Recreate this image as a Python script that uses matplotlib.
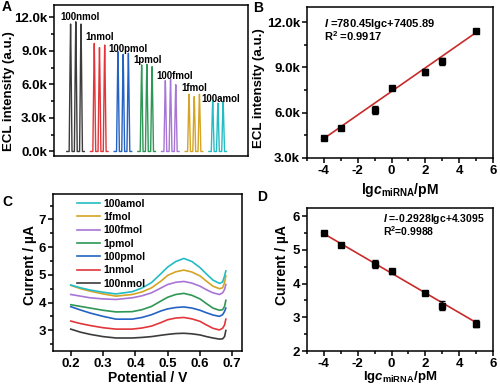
import numpy as np
import matplotlib
matplotlib.use('Agg')
import matplotlib.pyplot as plt
from matplotlib.ticker import MultipleLocator, FuncFormatter

plt.rcParams['font.family'] = ['Liberation Sans', 'DejaVu Sans']
plt.rcParams['font.weight'] = 'bold'
plt.rcParams['axes.labelweight'] = 'bold'
plt.rcParams['mathtext.fontset'] = 'custom'
plt.rcParams['mathtext.rm'] = 'Liberation Sans:bold'
plt.rcParams['mathtext.it'] = 'Liberation Sans:italic:bold'
plt.rcParams['mathtext.bf'] = 'Liberation Sans:bold'
plt.rcParams['axes.linewidth'] = 1.1
plt.rcParams['axes.unicode_minus'] = False

# ---- data ----
labels = ['100nmol', '1nmol', '100pmol', '1pmol', '100fmol', '1fmol', '100amol']
colors = ['#3c3c3c', '#e2363b', '#2462c4', '#2e9755', '#a775d6', '#d6a424', '#24bcc4']

# A: ECL peaks (three repeats per concentration)
peak_t = [-0.22, 0.0, 0.22]
peak_h = [[11400, 11600, 11400],
          [9670, 9290, 9520],
          [8930, 8690, 8780],
          [7740, 7800, 7590],
          [6340, 6460, 5980],
          [5120, 4910, 5120],
          [4550, 4320, 4460]]
lab_x = [-0.66, 0.39, 1.38, 2.43, 3.42, 4.44, 5.32]
lab_y = [12030, 10210, 9140, 8190, 6790, 5660, 4680]

# B: ECL calibration
lgc = [-4, -3, -1, 0, 2, 3, 5]
ecl = [4290, 4980, 6180, 7620, 8710, 9400, 11400]
ecl_err = [120, 60, 250, 110, 200, 250, 100]
b_slope, b_int = 780.45, 7405.89

# C: DPV curves
pot = [0.20, 0.23, 0.26, 0.30, 0.34, 0.39, 0.42, 0.45, 0.48, 0.50, 0.525, 0.55, 0.575,
       0.60, 0.62, 0.64, 0.66, 0.67, 0.676, 0.68]
dpv = {
    '100nmol': [3.04, 2.93, 2.85, 2.77, 2.72, 2.72, 2.74, 2.77, 2.82, 2.85, 2.88, 2.89, 2.87,
                2.83, 2.77, 2.72, 2.68, 2.69, 2.77, 2.99],
    '1nmol':   [3.33, 3.24, 3.17, 3.09, 3.04, 3.04, 3.08, 3.15, 3.28, 3.38, 3.44, 3.46, 3.41,
                3.32, 3.19, 3.07, 3.01, 3.07, 3.19, 3.40],
    '100pmol': [3.85, 3.73, 3.62, 3.50, 3.40, 3.40, 3.46, 3.56, 3.70, 3.77, 3.82, 3.84, 3.80,
                3.72, 3.63, 3.55, 3.50, 3.56, 3.68, 3.80],
    '1pmol':   [3.92, 3.86, 3.80, 3.72, 3.66, 3.67, 3.74, 3.86, 4.06, 4.19, 4.29, 4.33, 4.26,
                4.13, 3.96, 3.80, 3.72, 3.74, 3.86, 4.08],
    '100fmol': [4.29, 4.23, 4.17, 4.13, 4.11, 4.17, 4.24, 4.35, 4.53, 4.65, 4.73, 4.76, 4.70,
                4.59, 4.46, 4.35, 4.29, 4.35, 4.47, 4.65],
    '1fmol':   [4.62, 4.50, 4.41, 4.31, 4.23, 4.29, 4.38, 4.53, 4.78, 4.98, 5.11, 5.17, 5.10,
                4.96, 4.77, 4.59, 4.50, 4.53, 4.72, 4.96],
    '100amol': [4.63, 4.53, 4.45, 4.37, 4.31, 4.39, 4.52, 4.72, 5.05, 5.28, 5.48, 5.59, 5.48,
                5.26, 5.03, 4.81, 4.69, 4.74, 4.96, 5.14],
}

# D: DPV calibration
cur = [5.50, 5.16, 4.59, 4.37, 3.73, 3.35, 2.81]
cur_err = [0.06, 0.03, 0.12, 0.07, 0.04, 0.12, 0.10]
d_slope, d_int = -0.2928, 4.3095

fit_color = '#c92a2a'

fig = plt.figure(figsize=(5.0, 3.87), dpi=100)
axA = fig.add_axes([0.108, 0.597, 0.388, 0.390])
axB = fig.add_axes([0.614, 0.592, 0.372, 0.390])
axC = fig.add_axes([0.106, 0.093, 0.378, 0.406])
axD = fig.add_axes([0.614, 0.093, 0.372, 0.370])

kfmt = FuncFormatter(lambda v, p: f'{v/1000:.1f}k')


def style(ax):
    ax.tick_params(which='both', direction='out', top=False, right=False, labelsize=9.5, width=1.1, pad=1.5)
    ax.tick_params(which='major', length=3.5)
    ax.tick_params(which='minor', length=2)
    for t in ax.get_xticklabels() + ax.get_yticklabels():
        t.set_fontweight('bold')


# ---- A ----
for g, (hs, c) in enumerate(zip(peak_h, colors)):
    xs, ys = [g - 0.38], [0]
    for dt, h in zip(peak_t, hs):
        p = g + dt
        xs += [p - 0.06, p - 0.015, p, p + 0.015, p + 0.06]
        ys += [0, h * 0.8, h, h * 0.8, 0]
    xs.append(g + 0.36)
    ys.append(0)
    axA.plot(xs, ys, color=c, lw=1.0)
    axA.text(lab_x[g], lab_y[g], labels[g], fontsize=7, fontweight='bold', va='center', ha='left')
axA.set_xlim(-0.92, 7.27)
axA.set_ylim(-400, 13100)
axA.set_xticks([])
axA.yaxis.set_major_locator(MultipleLocator(3000))
axA.yaxis.set_minor_locator(MultipleLocator(1500))
axA.yaxis.set_major_formatter(kfmt)
axA.set_ylabel('ECL intensity (a.u.)', fontsize=9.5)
axA.yaxis.set_label_coords(-0.20, 0.43)
style(axA)

# ---- B ----
xb = np.array(lgc, dtype=float)
xf = np.array([xb.min() - 0.12, xb.max() + 0.05])
axB.plot(xf, b_slope * xf + b_int, color=fit_color, lw=1.2, zorder=1)
axB.errorbar(lgc, ecl, yerr=ecl_err, fmt='s', color='black', ms=3.8, capsize=2, elinewidth=1, capthick=1, zorder=2)
axB.set_xlim(-5, 6)
axB.set_ylim(3000, 13000)
axB.xaxis.set_major_locator(MultipleLocator(2))
axB.xaxis.set_minor_locator(MultipleLocator(1))
axB.yaxis.set_major_locator(MultipleLocator(3000))
axB.yaxis.set_minor_locator(MultipleLocator(1500))
axB.yaxis.set_major_formatter(kfmt)
axB.set_ylabel('ECL intensity (a.u.)', fontsize=9.5)
axB.yaxis.set_label_coords(-0.225, 0.46)
axB.set_xlabel(r'lg$\mathit{c}_{\mathrm{miRNA}}$/pM', fontsize=10)
axB.xaxis.set_label_coords(0.5, -0.15)
axB.text(-4.0, 11900, r'$\mathit{I}$ =780.45lgc+7405.89', fontsize=8, va='center')
axB.text(-4.0, 11050, r'R$^{2}$ =0.9917', fontsize=8, va='center')
style(axB)

# ---- C ----
for name, c in zip(labels, colors):
    axC.plot(pot, dpv[name], color=c, lw=1.2, label=name)
h, l = axC.get_legend_handles_labels()
axC.legend(h[::-1], l[::-1], loc='upper left', bbox_to_anchor=(0.08, 1.03), frameon=False,
           handlelength=2.2, handletextpad=0.3, labelspacing=0.32,
           prop={'weight': 'bold', 'size': 7.5})
axC.set_xlim(0.145, 0.73)
axC.set_ylim(2.25, 7.92)
axC.xaxis.set_major_locator(MultipleLocator(0.1))
axC.yaxis.set_major_locator(MultipleLocator(1))
axC.yaxis.set_minor_locator(MultipleLocator(0.5))
axC.set_xlabel('Potential / V', fontsize=10)
axC.xaxis.set_label_coords(0.5, -0.13)
axC.set_ylabel('Current / µA', fontsize=10)
axC.yaxis.set_label_coords(-0.085, 0.55)
style(axC)

# ---- D ----
xd = np.array(lgc, dtype=float)
xf = np.array([xd.min() - 0.12, xd.max() + 0.05])
axD.plot(xf, d_slope * xf + d_int, color=fit_color, lw=1.2, zorder=1)
axD.errorbar(lgc, cur, yerr=cur_err, fmt='s', color='black', ms=3.8, capsize=2, elinewidth=1, capthick=1, zorder=2)
axD.set_xlim(-5, 6)
axD.set_ylim(2, 6.25)
axD.xaxis.set_major_locator(MultipleLocator(2))
axD.xaxis.set_minor_locator(MultipleLocator(1))
axD.yaxis.set_major_locator(MultipleLocator(1))
axD.yaxis.set_minor_locator(MultipleLocator(0.5))
axD.set_ylabel('Current / µA', fontsize=10)
axD.yaxis.set_label_coords(-0.095, 0.6)
axD.set_xlabel(r'lg$\mathit{c}_{\mathrm{miRNA}}$/pM', fontsize=9.5)
axD.xaxis.set_label_coords(0.5, -0.125)
axD.text(-0.53, 5.92, r'$\mathit{I}$ =-0.2928lgc+4.3095', fontsize=7.5, va='center')
axD.text(-0.53, 5.55, r'R$^{2}$=0.9988', fontsize=7.5, va='center')
style(axD)

# panel letters
fig.text(0.003, 1.0, 'A', fontsize=10, fontweight='bold', va='top')
fig.text(0.507, 0.998, 'B', fontsize=10, fontweight='bold', va='top')
fig.text(0.005, 0.495, 'C', fontsize=10, fontweight='bold', va='top')
fig.text(0.515, 0.51, 'D', fontsize=10, fontweight='bold', va='top')

fig.savefig('out.png', dpi=100)
